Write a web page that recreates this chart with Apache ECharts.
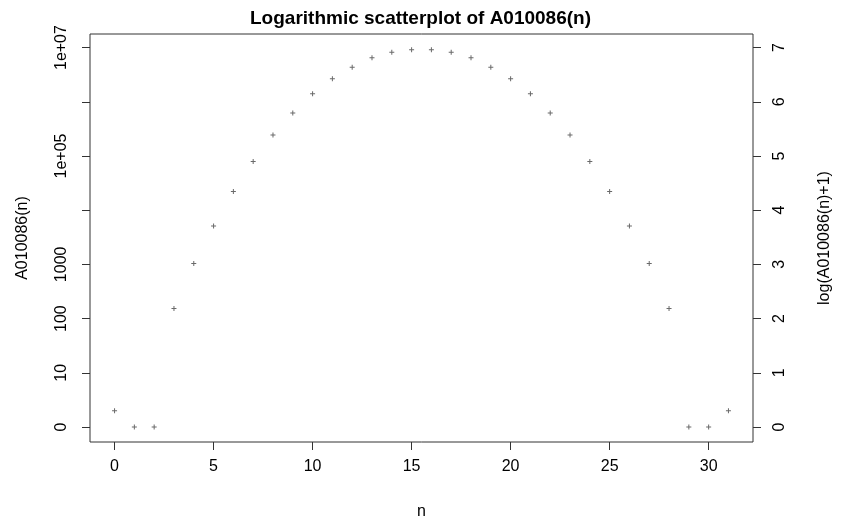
<!DOCTYPE html>
<html>
<head>
<meta charset="utf-8">
<script src="https://cdn.jsdelivr.net/npm/echarts@6/dist/echarts.min.js"></script>
<style>html,body{margin:0;padding:0;background:#fff}#c{width:841px;height:527px}</style>
</head>
<body>
<div id="c"></div>
<script>
// Data
const nValues = [0,1,2,3,4,5,6,7,8,9,10,11,12,13,14,15,16,17,18,19,20,21,22,23,24,25,26,27,28,29,30,31];
const seqValues = [1,0,0,152,1040,5100,22000,79000,244000,620000,1410000,2670000,4310000,6500000,8150000,9150000,
                   9150000,8150000,6500000,4310000,2670000,1410000,620000,244000,79000,22000,5100,1040,152,0,0,1];
const xTicks = [0,5,10,15,20,25,30];
const yTicks = [0,1,2,3,4,5,6,7];
const leftTickLabels = ['0','10','100','1000','','1e+05','','1e+07'];
const rightTickLabels = ['0','1','2','3','4','5','6','7'];

const points = nValues.map((n,i) => [n, Math.log10(seqValues[i] + 1)]);

const font = 'Liberation Sans, Arial, Helvetica, sans-serif';
const chart = echarts.init(document.getElementById('c'), null, {renderer:'canvas'});
const yCommon = {
  type: 'value', min: -0.277, max: 7.25,
  splitLine: {show:false},
  axisLine: {show:false, onZero:false},
  axisTick: {show:true, length:8, inside:false, customValues: yTicks, lineStyle:{color:'#333', width:1}},
  nameLocation: 'middle',
  nameRotate: 90,
  nameTextStyle: {fontFamily: font, fontSize: 16, color:'#000'}
};
chart.setOption({
  animation: false,
  backgroundColor: '#fff',
  title: {
    text: 'Logarithmic scatterplot of A010086(n)',
    left: 'center', top: 4,
    textStyle: {fontFamily: font, fontSize: 19, fontWeight: 'bold', color:'#000'}
  },
  grid: {left: 90, right: 87, top: 34, bottom: 85, show: true, borderColor: '#333', borderWidth: 1, backgroundColor: 'transparent'},
  xAxis: {
    type: 'value', min: -1.24, max: 32.24,
    splitLine: {show:false},
    axisLine: {show:false, onZero:false},
    axisTick: {show:true, length:8, customValues: xTicks, lineStyle:{color:'#333', width:1}},
    axisLabel: {customValues: xTicks, margin: 17, fontFamily: font, fontSize: 16, color:'#000'},
    name: 'n', nameLocation: 'middle', nameGap: 62,
    nameTextStyle: {fontFamily: font, fontSize: 16, color:'#000'}
  },
  yAxis: [
    Object.assign({}, yCommon, {
      position: 'left',
      name: 'A010086(n)', nameGap: 59,
      axisLabel: {customValues: yTicks, rotate: 90, margin: 20, fontFamily: font, fontSize: 16, color:'#000',
        formatter: v => { const i = yTicks.indexOf(Math.round(v)); return i >= 0 ? leftTickLabels[i] : ''; }}
    }),
    Object.assign({}, yCommon, {
      position: 'right',
      name: 'log(A010086(n)+1)', nameGap: 64,
      axisLabel: {customValues: yTicks, rotate: 90, margin: 19, fontFamily: font, fontSize: 16, color:'#000',
        formatter: v => { const i = yTicks.indexOf(Math.round(v)); return i >= 0 ? rightTickLabels[i] : ''; }}
    })
  ],
  series: [{
    type: 'scatter',
    yAxisIndex: 0,
    data: points,
    symbol: 'path://M-1,-0.2L-0.2,-0.2L-0.2,-1L0.2,-1L0.2,-0.2L1,-0.2L1,0.2L0.2,0.2L0.2,1L-0.2,1L-0.2,0.2L-1,0.2Z',
    symbolSize: 5,
    itemStyle: {color: '#444'}
  }]
});
</script>
</body>
</html>
